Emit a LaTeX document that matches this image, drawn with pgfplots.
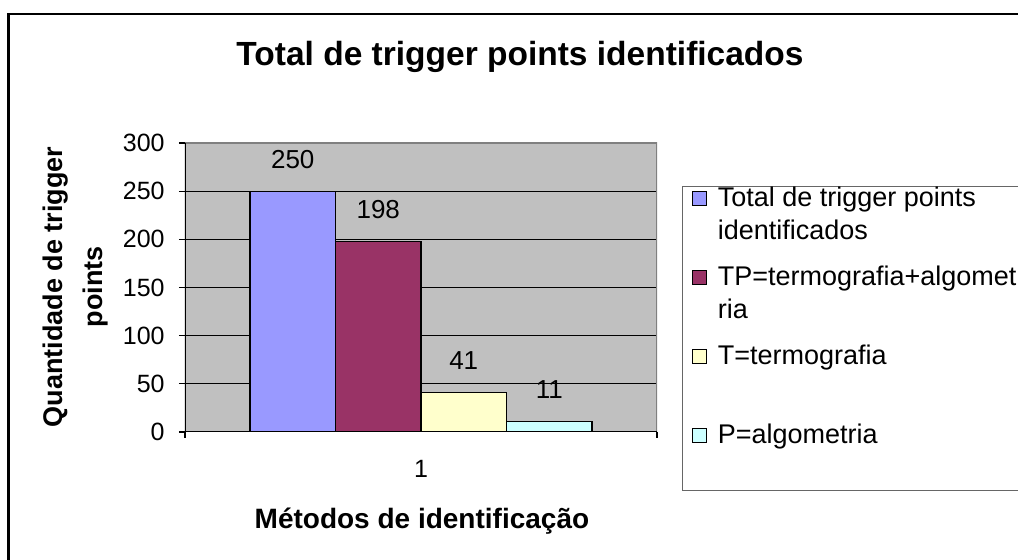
\documentclass[border=0pt]{standalone}
\usepackage{pgfplots}
\pgfplotsset{compat=1.18}
\usepackage{fontspec}
\setmainfont{Liberation Sans}

\definecolor{serieA}{HTML}{9999FF}
\definecolor{serieB}{HTML}{993366}
\definecolor{serieC}{HTML}{FFFFCC}
\definecolor{serieD}{HTML}{CCFFFF}
\definecolor{plotbg}{HTML}{C0C0C0}
\definecolor{framegray}{HTML}{808080}

% legend text with a fixed row depth, so the entries are spread out like Excel's
\newcommand{\legtext}[2][29.5pt]{\rule[-#1]{0pt}{\dimexpr10pt+#1\relax}\parbox[t]{170pt}{\raggedright #2}}

\begin{document}
\begin{tikzpicture}[x=1pt,y=1pt]
\useasboundingbox (0,0) rectangle (509,280);
% outer chart frame (its right and bottom edges fall outside the picture)
\draw[line width=1.2pt] (4.3,-5) -- (4.3,273.1) -- (520,273.1);

\begin{axis}[
    at={(92.5pt,64pt)}, anchor=south west,
    scale only axis,
    width=236pt, height=144.5pt,
    enlargelimits=false,
    xmin=0.5, xmax=1.5,
    ymin=0, ymax=300,
    ybar=0pt, bar width=42.75pt,
    axis background/.style={fill=plotbg},
    axis line style={draw=none},
    xtick={0.5,1.5}, xticklabels={,},
    extra x ticks={1}, extra x tick labels={1},
    extra x tick style={major tick length=0pt, grid=none,
      xticklabel style={anchor=base, yshift=-23pt, inner sep=0pt}},
    ytick={0,50,...,300},
    xtick pos=bottom, ytick pos=left,
    tick align=outside, major tick length=3pt,
    tick style={black, line width=0.6pt},
    ymajorgrids,
    major grid style={black, line width=0.5pt},
    /pgf/number format/assume math mode=true,
    tick label style={font=\fontsize{12.5}{14}\selectfont},
    yticklabel style={anchor=east, inner sep=0pt, xshift=-7pt},
    nodes near coords,
    every node near coord/.append style={font=\fontsize{13}{15}\selectfont,
      anchor=south, inner sep=0pt, yshift=11pt, black},
    title={Total de trigger points identificados},
    title style={at={(axis description cs:0.7097,1.2249)}, anchor=base,
      font=\bfseries\fontsize{16.75}{20}\selectfont},
    xlabel={Métodos de identificação},
    xlabel style={at={(axis description cs:0.502,-0.3356)}, anchor=base,
      font=\bfseries\fontsize{14}{17}\selectfont},
    ylabel={Quantidade de trigger\\points},
    ylabel style={at={(axis description cs:-0.2309,0.502)}, anchor=center,
      align=center, font=\bfseries\fontsize{13.5}{20}\selectfont},
    legend style={
      at={(axis description cs:1.0530,0.8512)}, anchor=north west,
      draw=black!60, line width=0.6pt, fill=white,
      inner xsep=4.5pt, inner ysep=0pt,
      row sep=0pt, column sep=5.5pt,
      font=\fontsize{13.5}{16.5}\selectfont,
      cells={anchor=base west},
      nodes={inner sep=0pt, text depth=},
    },
    legend image code/.code={\draw[#1,/tikz/.cd,line width=0.6pt] (0pt,0.5pt) rectangle (7pt,7.5pt);},
  ]

  \addplot[fill=serieA, draw=black, line width=0.6pt] coordinates {(1,250)};
  \addlegendentry{\legtext{Total de trigger points\newline identificados}}

  \addplot[fill=serieB, draw=black, line width=0.6pt] coordinates {(1,198)};
  \addlegendentry{\legtext{TP=termografia+algomet\newline ria}}

  \addplot[fill=serieC, draw=black, line width=0.6pt] coordinates {(1,41)};
  \addlegendentry{\legtext{T=termografia}}

  \addplot[fill=serieD, draw=black, line width=0.6pt] coordinates {(1,11)};
  \addlegendentry{\legtext[23.5pt]{P=algometria}}

  % plot area border: gray on top and right, black axis lines left and bottom
  \draw[framegray, line width=0.6pt] (rel axis cs:0,1) -- (rel axis cs:1,1) -- (rel axis cs:1,0);
  \draw[black, line width=0.6pt] (rel axis cs:0,1) -- (rel axis cs:0,0) -- (rel axis cs:1,0);
\end{axis}
\end{tikzpicture}
\end{document}
